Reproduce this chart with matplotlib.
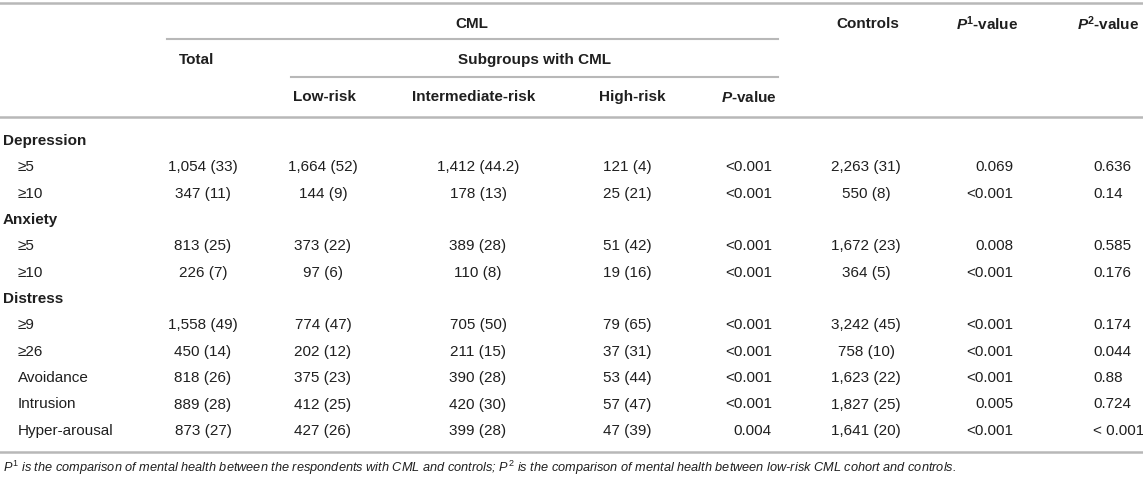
import matplotlib.pyplot as plt

plt.rcParams['font.family'] = ['Liberation Sans', 'DejaVu Sans']
plt.rcParams['mathtext.fontset'] = 'custom'
plt.rcParams['mathtext.rm'] = 'Liberation Sans'
plt.rcParams['mathtext.it'] = 'Liberation Sans:italic'
plt.rcParams['mathtext.bf'] = 'Liberation Sans:bold'
plt.rcParams['mathtext.bfit'] = 'Liberation Sans:bold:italic'

# table contents
row_labels = ['Depression', '≥5', '≥10', 'Anxiety', '≥5', '≥10', 'Distress',
              '≥9', '≥26', 'Avoidance', 'Intrusion', 'Hyper-arousal']
is_section = [True, False, False, True, False, False, True,
              False, False, False, False, False]
total = ['', '1,054 (33)', '347 (11)', '', '813 (25)', '226 (7)', '',
         '1,558 (49)', '450 (14)', '818 (26)', '889 (28)', '873 (27)']
low_risk = ['', '1,664 (52)', '144 (9)', '', '373 (22)', '97 (6)', '',
            '774 (47)', '202 (12)', '375 (23)', '412 (25)', '427 (26)']
inter_risk = ['', '1,412 (44.2)', '178 (13)', '', '389 (28)', '110 (8)', '',
              '705 (50)', '211 (15)', '390 (28)', '420 (30)', '399 (28)']
high_risk = ['', '121 (4)', '25 (21)', '', '51 (42)', '19 (16)', '',
             '79 (65)', '37 (31)', '53 (44)', '57 (47)', '47 (39)']
p_value = ['', '<0.001', '<0.001', '', '<0.001', '<0.001', '',
           '<0.001', '<0.001', '<0.001', '<0.001', '0.004']
controls = ['', '2,263 (31)', '550 (8)', '', '1,672 (23)', '364 (5)', '',
            '3,242 (45)', '758 (10)', '1,623 (22)', '1,827 (25)', '1,641 (20)']
p1_value = ['', '0.069', '<0.001', '', '0.008', '<0.001', '',
            '<0.001', '<0.001', '<0.001', '0.005', '<0.001']
p2_value = ['', '0.636', '0.14', '', '0.585', '0.176', '',
            '0.174', '0.044', '0.88', '0.724', '< 0.001']

footnote = (r'$\mathit{P^{1}}$ is the comparison of mental health between the respondents '
            r'with CML and controls; $\mathit{P^{2}}$ is the comparison of mental health '
            r'between low-risk CML cohort and controls.')

W, H = 1143, 482
fig = plt.figure(figsize=(W / 100, H / 100), dpi=100)
ax = fig.add_axes([0, 0, 1, 1])
ax.set_xlim(0, W)
ax.set_ylim(H, 0)
ax.axis('off')

txt = '#1f1f1f'
rule = '#b8b8b8'
fs = 11

# rules
ax.plot([0, W], [3, 3], color=rule, lw=1.8)
ax.plot([167, 778], [39, 39], color=rule, lw=1.5)
ax.plot([291, 778], [77, 77], color=rule, lw=1.5)
ax.plot([0, W], [117, 117], color=rule, lw=1.8)
ax.plot([0, W], [452, 452], color=rule, lw=1.8)

# header
hd = dict(fontsize=fs, fontweight='bold', color=txt, va='center')
ax.text(472, 24, 'CML', ha='center', **hd)
ax.text(868, 24, 'Controls', ha='center', **hd)
ax.text(987, 24, r'$\mathbfit{P}^{\mathbf{1}}$-value', ha='center', **hd)
ax.text(1139, 24, r'$\mathbfit{P}^{\mathbf{2}}$-value', ha='right', **hd)
ax.text(197, 60, 'Total', ha='center', **hd)
ax.text(534, 60, 'Subgroups with CML', ha='center', **hd)
ax.text(324, 97, 'Low-risk', ha='center', **hd)
ax.text(474, 97, 'Intermediate-risk', ha='center', **hd)
ax.text(632, 97, 'High-risk', ha='center', **hd)
ax.text(777, 97, r'$\mathbfit{P}$-value', ha='right', **hd)

# body
columns = [(total, 203, 'center'), (low_risk, 323, 'center'),
           (inter_risk, 478, 'center'), (high_risk, 627, 'center'),
           (p_value, 772, 'right'), (controls, 866, 'center'),
           (p1_value, 1013, 'right'), (p2_value, 1093, 'left')]
y0, dy = 141, 26.35
for i, lab in enumerate(row_labels):
    y = y0 + i * dy
    if is_section[i]:
        ax.text(3, y, lab, fontsize=fs, fontweight='bold', color=txt, va='center')
        continue
    ax.text(18, y, lab, fontsize=fs, color=txt, va='center')
    for vals, x, ha in columns:
        ax.text(x, y, vals[i], fontsize=fs, color=txt, va='center', ha=ha)

ax.text(3, 468, footnote, fontsize=9.2, fontstyle='italic', color=txt, va='center')

fig.savefig('out.png', dpi=100)
